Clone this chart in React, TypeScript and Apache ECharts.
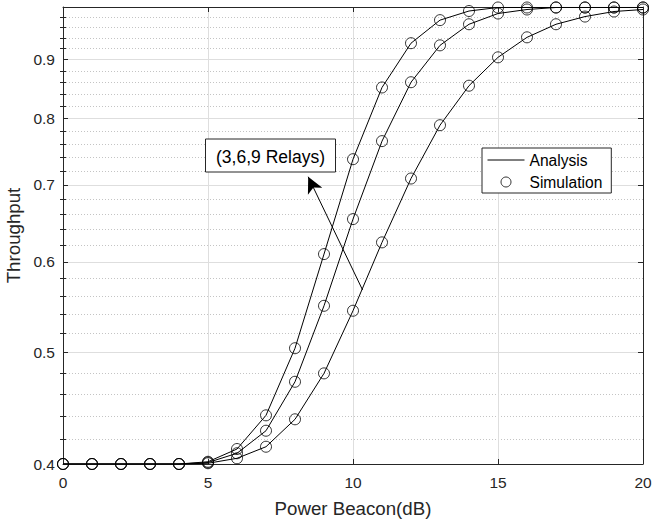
import React, { useEffect, useRef } from "react";
import * as echarts from "echarts";

// ---- data ----
const powerBeacon = [0, 1, 2, 3, 4, 5, 6, 7, 8, 9, 10, 11, 12, 13, 14, 15, 16, 17, 18, 19, 20];
// lowest curve
const relays3 = [0.4, 0.4, 0.4, 0.4, 0.4, 0.4006, 0.4046, 0.4141, 0.4375, 0.4797, 0.5439, 0.6238, 0.709, 0.789, 0.854, 0.904, 0.941, 0.966, 0.981, 0.991, 0.995];
// middle curve
const relays6 = [0.4, 0.4, 0.4, 0.4, 0.4, 0.4012, 0.4087, 0.4276, 0.4717, 0.5493, 0.6536, 0.7642, 0.86, 0.926, 0.966, 0.987, 0.995, 0.999, 0.999, 0.999, 0.999];
// top curve
const relays9 = [0.4, 0.4, 0.4, 0.4, 0.4, 0.4018, 0.4122, 0.441, 0.5045, 0.6093, 0.737, 0.851, 0.93, 0.974, 0.992, 0.999, 0.999, 0.999, 0.999, 0.999, 0.999];

const xTicks = [0, 5, 10, 15, 20];
const yMajorTicks = [0.4, 0.5, 0.6, 0.7, 0.8, 0.9];
const yMinorTicks = [0.42, 0.44, 0.46, 0.48, 0.52, 0.54, 0.56, 0.58, 0.62, 0.64, 0.66, 0.68, 0.72, 0.74, 0.76, 0.78, 0.82, 0.84, 0.86, 0.88, 0.92, 0.94, 0.96, 0.98];

const annotationText = "(3,6,9 Relays)";
const arrowFrom = [10.33, 0.567];
const arrowTo = [8.455, 0.7115];

const FONT = '"Liberation Sans", Arial, Helvetica, sans-serif';
const AX = "#262626";

export default function App() {
  const ref = useRef<HTMLDivElement>(null);
  useEffect(() => {
    document.body.style.margin = "0";
    if (!ref.current) return;
    const chart = echarts.init(ref.current, null, { renderer: "svg" });
    const pairs = (ys: number[]) => powerBeacon.map((x, i) => [x, ys[i]]);
    const curves = [relays3, relays6, relays9];

    const yBase: any = { type: "log", logBase: 10, min: 0.4, max: 1, minorTick: { show: false }, minorSplitLine: { show: false } };

    const lineSeries = curves.map((c, i) => ({
      type: "line",
      name: "Analysis",
      data: pairs(c),
      xAxisIndex: 0,
      yAxisIndex: 0,
      symbol: "none",
      lineStyle: { color: "#000", width: 1 },
      itemStyle: { color: "#000" },
      z: 3,
      ...(i === 0
        ? {
            markLine: {
              silent: true,
              symbol: ["none", "arrow"],
              symbolSize: [12, 16],
              label: { show: false },
              lineStyle: { color: "#000", width: 1, type: "solid" },
              itemStyle: { color: "#000" },
              emphasis: { disabled: true },
              data: [[{ coord: arrowFrom }, { coord: arrowTo }]],
            },
          }
        : {}),
    }));
    const scatterSeries = curves.map((c) => ({
      type: "scatter",
      name: "Simulation",
      data: pairs(c),
      xAxisIndex: 0,
      yAxisIndex: 0,
      symbol: "circle",
      symbolSize: 11,
      itemStyle: { color: "rgba(0,0,0,0)", borderColor: "#000", borderWidth: 1 },
      z: 4,
    }));

    chart.setOption({
      animation: false,
      textStyle: { fontFamily: FONT },
      grid: { left: 63, right: 10, top: 7, bottom: 61, show: false, containLabel: false, outerBoundsMode: "none" },
      legend: {
        data: [
          { name: "Analysis", itemStyle: { opacity: 0 }, lineStyle: { width: 1, color: "#000" } },
          { name: "Simulation", itemStyle: { color: "rgba(0,0,0,0)", borderColor: "#000", borderWidth: 1 } },
        ],
        orient: "vertical",
        left: 482,
        top: 148,
        itemWidth: 37,
        itemHeight: 10,
        itemGap: 4,
        padding: [3, 9, 2, 5],
        borderColor: AX,
        borderWidth: 1,
        backgroundColor: "#fff",
        selectedMode: false,
        textStyle: { fontSize: 15.6, color: "#000", fontFamily: FONT, lineHeight: 18 },
      },
      xAxis: [
        {
          type: "value",
          min: 0,
          max: 20,
          interval: 5,
          position: "bottom",
          name: "Power Beacon(dB)",
          nameLocation: "middle",
          nameGap: 35,
          nameTextStyle: { fontSize: 18.7, color: AX, fontFamily: FONT },
          axisLine: { show: true, onZero: false, lineStyle: { color: AX, width: 1 } },
          axisTick: { show: true, inside: true, length: 5, customValues: xTicks, lineStyle: { color: AX } },
          axisLabel: { fontSize: 15.5, color: AX, margin: 10, fontFamily: FONT, customValues: xTicks },
          splitLine: { show: true, lineStyle: { color: "#dedede", width: 1 } },
        },
        {
          type: "value",
          min: 0,
          max: 20,
          interval: 5,
          position: "top",
          axisLine: { show: true, onZero: false, lineStyle: { color: AX, width: 1 } },
          axisTick: { show: true, inside: true, length: 5, customValues: xTicks, lineStyle: { color: AX } },
          axisLabel: { show: false },
          splitLine: { show: false },
        },
      ],
      yAxis: [
        {
          ...yBase,
          position: "left",
          name: "Throughput",
          nameLocation: "middle",
          nameGap: 39,
          nameTextStyle: { fontSize: 18.7, color: AX, fontFamily: FONT },
          axisLine: { show: true, onZero: false, lineStyle: { color: AX, width: 1 } },
          axisTick: { show: true, inside: true, length: 5, customValues: yMajorTicks, lineStyle: { color: AX } },
          axisLabel: { customValues: yMajorTicks, formatter: (v: number) => v.toFixed(1), fontSize: 15.5, color: AX, margin: 8, fontFamily: FONT },
          splitLine: { show: true, lineStyle: { color: "#dedede", width: 1 } },
        },
        {
          ...yBase,
          position: "left",
          axisLine: { show: false },
          axisTick: { show: true, inside: true, length: 3, customValues: yMinorTicks, lineStyle: { color: AX } },
          axisLabel: { show: false, customValues: yMinorTicks },
          splitLine: { show: true, lineStyle: { color: "#c4c4c4", width: 1, type: [1, 2] } },
        },
        {
          ...yBase,
          position: "right",
          axisLine: { show: true, onZero: false, lineStyle: { color: AX, width: 1 } },
          axisTick: { show: true, inside: true, length: 5, customValues: yMajorTicks, lineStyle: { color: AX } },
          axisLabel: { show: false, customValues: yMajorTicks },
          splitLine: { show: false },
        },
        {
          ...yBase,
          position: "right",
          axisLine: { show: false },
          axisTick: { show: true, inside: true, length: 3, customValues: yMinorTicks, lineStyle: { color: AX } },
          axisLabel: { show: false, customValues: yMinorTicks },
          splitLine: { show: false },
        },
      ],
      graphic: [
        {
          type: "group",
          left: 205,
          top: 138.5,
          z: 100,
          children: [
            { type: "rect", z: 100, shape: { x: 0, y: 0, width: 130, height: 33 }, style: { fill: "#fff", stroke: AX, lineWidth: 1 } },
            { type: "text", z: 101, x: 65, y: 17.5, style: { text: annotationText, fontSize: 17.5, fontFamily: FONT, fill: "#000", align: "center", verticalAlign: "middle" } },
          ],
        },
      ],
      series: [...lineSeries, ...scatterSeries],
    });
    return () => chart.dispose();
  }, []);
  return <div ref={ref} style={{ width: 653, height: 525 }} />;
}
